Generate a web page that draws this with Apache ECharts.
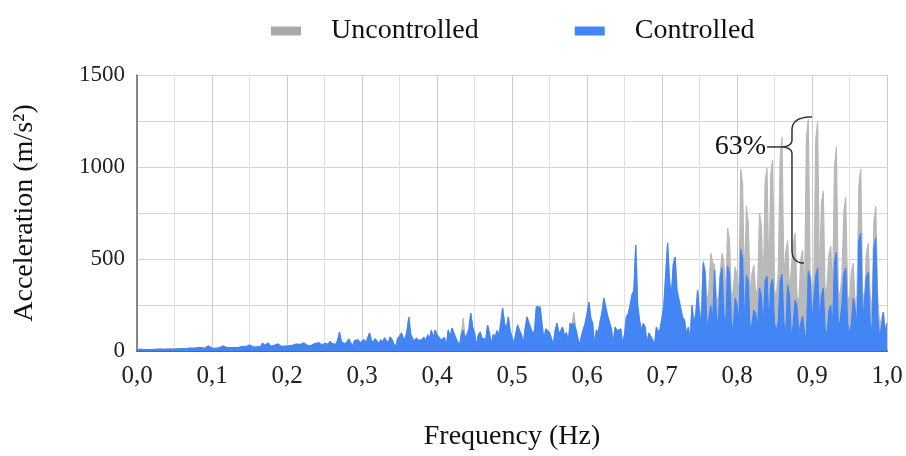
<!DOCTYPE html>
<html>
<head>
<meta charset="utf-8">
<script src="https://cdn.jsdelivr.net/npm/echarts@6/dist/echarts.min.js"></script>
<style>html,body{margin:0;padding:0;background:#fff}#c{width:906px;height:456px}</style>
</head>
<body>
<div id="c"></div>
<script>
// Frequency resolution of the sampled spectrum (Hz)
const STEP = 0.0025;
const seriesNames = ['Uncontrolled', 'Controlled'];
const xTickLabels = ['0,0','0,1','0,2','0,3','0,4','0,5','0,6','0,7','0,8','0,9','1,0'];
const yTickLabels = [0, 500, 1000, 1500];

// Controlled acceleration (m/s²), one value per STEP from 0 Hz to 1 Hz
const controlled = [
  8,6,9,7,8,10,7,9,8,11,
  9,8,10,12,9,11,10,13,11,12,
  10,14,12,11,13,15,12,14,16,13,
  15,14,17,15,18,16,14,22,27,18,
  16,18,15,20,17,19,27,21,18,20,
  17,25,19,22,18,21,24,20,23,19,
  33,24,21,26,22,28,25,43,30,38,
  43,27,24,29,25,38,28,24,30,26,
  33,28,25,31,27,38,30,35,29,43,
  34,28,36,31,26,40,33,45,38,30,
  42,48,36,52,40,47,35,58,103,50,
  55,38,49,65,44,27,56,48,60,42,
  50,62,45,70,98,58,47,66,52,40,
  60,48,71,55,44,76,62,38,22,67,
  80,98,72,60,110,185,90,66,54,70,
  58,49,60,75,52,88,64,114,70,114,
  88,80,60,65,72,30,114,75,125,118,
  70,80,28,95,114,70,90,120,206,130,
  100,26,85,103,70,80,62,141,95,35,
  90,76,110,85,150,233,150,120,185,110,
  100,40,95,141,110,90,35,120,185,152,
  150,95,110,240,245,238,245,60,120,130,
  100,90,35,110,152,95,110,130,80,100,
  50,152,140,152,120,110,30,80,114,150,
  200,266,180,150,30,114,100,160,210,288,
  280,190,185,120,40,130,110,114,120,35,
  90,185,200,250,304,330,576,250,168,110,
  150,130,40,98,90,60,30,130,100,120,
  179,250,420,587,380,300,470,511,330,280,
  277,180,168,90,130,60,250,150,200,331,
  200,150,478,420,110,180,250,160,440,200,
  130,400,451,200,140,462,420,150,120,288,
  250,140,554,500,120,413,380,100,150,223,
  200,120,342,300,130,380,408,140,360,391,
  150,110,160,380,418,150,100,359,300,60,
  150,277,240,90,150,190,100,60,435,400,
  150,140,410,451,150,300,342,120,80,220,
  250,130,480,538,140,160,260,420,451,150,
  90,150,288,230,120,600,641,150,160,400,
  429,150,100,560,614,200,70,130,212,100,
  150
];

// Uncontrolled acceleration (m/s²), same frequency grid
const uncontrolled = [
  8,6,9,7,8,10,7,9,8,11,
  9,8,10,12,9,11,10,13,11,12,
  10,14,12,11,13,15,12,14,16,13,
  15,14,17,15,18,16,14,22,27,18,
  16,18,15,20,17,19,27,21,18,20,
  17,25,19,22,18,21,24,20,23,19,
  33,24,21,26,22,28,25,43,30,38,
  43,27,24,29,25,38,28,24,30,26,
  33,28,25,31,27,38,30,35,29,43,
  34,28,36,31,26,40,33,45,38,30,
  42,48,36,52,40,47,35,58,103,50,
  55,38,49,65,44,27,56,48,60,42,
  50,62,45,70,98,58,47,66,52,40,
  60,48,71,55,44,76,62,38,22,67,
  80,98,72,60,110,185,90,66,54,70,
  58,49,60,75,52,88,64,114,70,114,
  88,80,60,65,72,30,114,75,125,118,
  70,80,28,95,179,70,90,120,206,130,
  100,26,85,103,70,80,62,141,95,35,
  90,76,110,85,150,233,150,120,185,110,
  100,40,95,141,110,90,35,120,185,152,
  150,95,110,240,245,238,245,60,120,130,
  100,90,35,110,152,95,110,130,80,100,
  50,152,140,212,120,110,30,80,114,150,
  200,266,180,150,30,114,100,160,210,288,
  280,190,185,120,40,130,110,114,120,35,
  90,185,200,250,304,330,576,250,168,110,
  150,130,40,98,90,60,30,130,100,120,
  179,250,420,587,380,300,470,511,330,280,
  277,180,168,90,130,60,250,150,200,331,
  200,220,490,440,260,330,532,480,467,300,
  260,420,532,480,300,668,600,280,330,457,
  410,300,989,900,330,788,700,300,420,467,
  300,340,750,680,320,920,995,360,960,1038,
  330,300,420,1050,1163,380,540,600,320,330,
  580,641,300,260,500,549,250,1150,1261,420,
  320,380,1150,1245,340,800,870,300,350,520,
  571,300,1000,1109,330,300,420,760,837,300,
  260,430,478,260,300,900,989,320,280,530,
  587,300,220,700,788,300,150,170,212,120,
  150
];

const freq = controlled.map((_, i) => +(i * STEP).toFixed(4));
const pairs = vals => vals.map((v, i) => [freq[i], v]);

const FONT = '"Liberation Serif", "Times New Roman", serif';
const GRAY = '#b9b9b9';
const BLUE = '#4285f4';

const chart = echarts.init(document.getElementById('c'), null, {renderer: 'canvas'});
chart.setOption({
  animation: false,
  backgroundColor: '#fff',
  grid: {left: 137, right: 19, top: 75, bottom: 105, containLabel: false},
  legend: {
    left: 266, top: 12,
    icon: 'rect', itemWidth: 30, itemHeight: 9, itemGap: 96,
    textStyle: {fontFamily: FONT, fontSize: 28, color: '#111', padding: [0, 0, 0, 25]},
    data: [
      {name: seriesNames[0], itemStyle: {color: '#a8a8a8'}},
      {name: seriesNames[1], itemStyle: {color: BLUE}}
    ]
  },
  xAxis: {
    type: 'value', min: 0, max: 1, interval: 0.05,
    name: 'Frequency (Hz)', nameLocation: 'middle', nameGap: 72,
    nameTextStyle: {fontFamily: FONT, fontSize: 28, color: '#111'},
    axisLine: {show: true, lineStyle: {color: '#666', width: 2}},
    axisTick: {show: false},
    axisLabel: {
      fontFamily: FONT, fontSize: 25, color: '#222', margin: 13,
      formatter: v => {
        const k = Math.round(v * 100);
        return k % 10 === 0 ? xTickLabels[k / 10] : '';
      }
    },
    splitLine: {show: true, lineStyle: {color: ['#cbcbcb', '#e1e1e1'], width: 1}}
  },
  yAxis: {
    type: 'value', min: 0, max: 1500, interval: 250,
    name: 'Acceleration (m/s²)', nameLocation: 'middle', nameGap: 98,
    nameTextStyle: {fontFamily: FONT, fontSize: 28, color: '#111'},
    axisLine: {show: true, lineStyle: {color: '#666', width: 1.5}},
    axisTick: {show: false},
    axisLabel: {
      fontFamily: FONT, fontSize: 23, color: '#222', margin: 12,
      formatter: v => (yTickLabels.indexOf(v) >= 0 ? String(v) : '')
    },
    splitLine: {show: true, lineStyle: {color: '#d4d4d4', width: 1}}
  },
  series: [
    {
      name: seriesNames[0], type: 'line', data: pairs(uncontrolled),
      showSymbol: false, symbol: 'none', sampling: null,
      color: GRAY,
      lineStyle: {color: GRAY, width: 1.2},
      areaStyle: {color: GRAY, opacity: 1},
      z: 2
    },
    {
      name: seriesNames[1], type: 'line', data: pairs(controlled),
      showSymbol: false, symbol: 'none', sampling: null,
      color: BLUE,
      lineStyle: {color: BLUE, width: 1.2},
      areaStyle: {color: BLUE, opacity: 1},
      z: 3
    }
  ]
});

// Brace annotation for the 63% reduction, anchored in data coordinates
const braceF = 0.8733, braceTop = 1272, braceBot = 478, braceTip = 1109;
const P = p => chart.convertToPixel({gridIndex: 0}, p);
const [sx, ty] = P([braceF, braceTop]);
const by = P([braceF, braceBot])[1];
const my = P([braceF, braceTip])[1];
const quad = (a, c, b, n) => {
  const pts = [];
  for (let k = 0; k <= n; k++) {
    const t = k / n, u = 1 - t;
    pts.push([u*u*a[0] + 2*u*t*c[0] + t*t*b[0], u*u*a[1] + 2*u*t*c[1] + t*t*b[1]]);
  }
  return pts;
};
const bracePts = [].concat(
  quad([sx + 20, ty], [sx, ty], [sx, ty + 13], 10),
  quad([sx, my - 7], [sx, my], [sx - 12, my], 8),
  quad([sx - 12, my], [sx, my], [sx, my + 7], 8),
  quad([sx, by - 13], [sx, by], [sx + 12, by], 10)
);
chart.setOption({
  graphic: [
    {type: 'polyline', z: 100, shape: {points: bracePts},
     style: {fill: null, stroke: '#333', lineWidth: 1.5}},
    {type: 'line', z: 100, shape: {x1: sx - 25, y1: my, x2: sx - 12, y2: my},
     style: {stroke: '#333', lineWidth: 1.5}},
    {type: 'text', z: 100, x: sx - 26, y: my,
     style: {text: '63%', font: '28px ' + FONT, fill: '#111', align: 'right', verticalAlign: 'middle'}}
  ]
});
</script>
</body>
</html>
